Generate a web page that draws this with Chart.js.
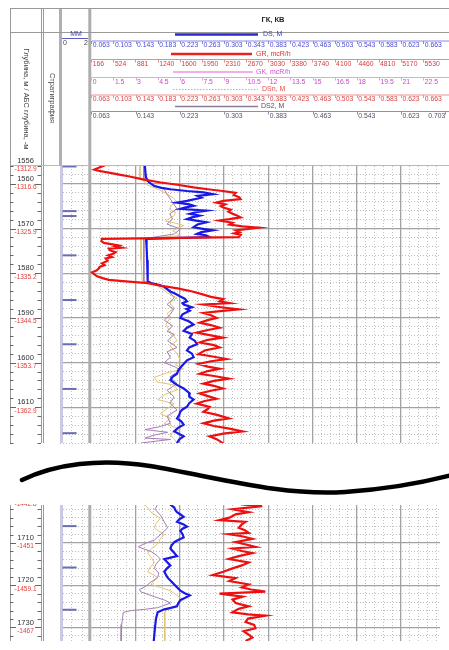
<!DOCTYPE html>
<html>
<head>
<meta charset="utf-8">
<script src="https://cdn.jsdelivr.net/npm/chart.js@4.4.1/dist/chart.umd.min.js"></script>
<style>
  html, body { margin: 0; padding: 0; background: #fff; overflow: hidden; }
  canvas { position: absolute; left: 0; }
  #top { top: 0; }
  #bot { top: 452px; }
</style>
</head>
<body>
<canvas id="top" width="449" height="452"></canvas>
<canvas id="bot" width="449" height="198"></canvas>
<script>
const DEPTH_GR = [1556.0,1556.1,1556.8,1557.0,1557.5,1558.0,1558.3,1559.0,1559.7,1560.2,1560.8,1561.2,1561.6,1562.0,1562.5,1563.0,1563.4,1563.8,1564.2,1564.6,1565.0,1565.3,1565.8,1566.2,1566.7,1567.1,1567.5,1567.9,1568.2,1568.7,1569.1,1569.5,1569.8,1570.1,1570.4,1570.8,1571.1,1571.4,1571.9,
  1572.3,1572.8,1573.2,1573.8,1574.0,1574.3,1574.5,1574.9,1575.3,1575.6,1576.0,1576.4,1576.7,1577.2,1577.8,1578.2,1578.6,1578.9,1579.4,1579.8,1580.2,1580.7,1581.1,1581.5,1581.9,1582.2,1582.8,1583.4,1584.1,1584.8,1585.3,1585.8,
  1586.3,1586.7,1587.0,1587.5,1588.1,1588.5,1588.9,1589.4,1590.0,1590.5,1591.1,1591.6,1592.2,1592.7,1593.3,1593.9,1594.4,1594.9,1595.5,1596.1,1596.6,1597.3,1598.1,1598.7,1599.2,1599.7,1600.3,1600.9,1601.4,1601.9,1602.5,1603.0,
  1603.6,1604.1,1604.7,1605.2,1605.8,1606.3,1606.9,1607.5,1608.1,1608.6,1609.2,1609.9,1610.4,1611.0,1611.7,1612.5,1613.0,1613.6,1614.2,1614.8,1615.4,1615.9,1616.5,1617.2,1618.0,
  1700.9,1701.3,1701.6,1702.0,1702.7,1703.2,1704.0,1704.6,1705.0,1705.6,1706.4,1707.0,1707.6,1707.9,1708.4,1709.0,1709.8,1710.3,1710.9,1711.3,1711.9,1712.4,1713.1,1713.8,1714.6,1715.3,1716.0,1716.8,1717.6,1718.3,1719.0,1719.8,
  1720.5,1721.0,1721.5,1722.0,1722.7,1723.4,1724.2,1725.0,1725.6,1726.4,1726.9,1727.2,1727.9,1728.7,1729.4,1730.2,1730.9,1731.6,1732.4,1733.2];
const GR = [290,340,215,260,450,640,766,1000,1290,1560,1820,2050,2290,2500,2470,2560,2580,2300,2190,2330,2260,2300,2420,2380,2450,2520,2580,2400,2240,2450,2400,2610,2870,2700,2500,2560,2480,2580,2550,
  340,330,370,610,560,655,450,470,560,530,440,500,400,430,340,380,300,290,250,180,210,260,350,450,770,1080,1300,1560,1800,1980,2100,2300,
  2240,2400,1980,2200,2550,2250,1980,2100,2190,2050,1920,2100,2240,2050,1870,2100,2290,2050,1920,2150,2240,2000,1900,2150,2350,2100,1900,2050,2240,2050,1920,2150,
  2390,2150,1980,2150,2290,2100,1920,2050,2190,2000,1870,2080,2050,1980,2200,2390,2150,1980,2150,2400,2610,2300,2080,2200,2290,
  2610,2930,2700,2450,2710,2500,2400,2240,2660,2600,2550,2650,2710,2390,2600,2770,2500,2650,2820,2450,2600,2770,2550,2390,2710,2600,2450,2300,2130,2500,2400,2710,
  2600,2750,2980,2240,2610,2450,2500,2710,2550,2450,2700,2980,2700,2660,2800,2820,2630,2700,2770,2660];

const DEPTH_DS = [1556.0,1557.5,1558.6,1559.3,1559.7,1560.5,1560.9,1561.2,1561.6,1561.9,1562.3,1562.7,1563.1,1563.8,1564.2,1564.6,1564.9,1565.3,1565.6,1566.0,1566.4,1566.7,1567.1,1567.5,1567.9,1568.3,1568.6,1569.1,1569.7,1570.0,1570.4,1570.8,1571.2,1571.5,1571.9,
  1572.3,1574.0,1577.1,1580.0,1581.8,1582.2,1582.6,1583.0,1583.5,1584.1,1584.6,1585.2,1585.7,1586.3,1586.7,1587.0,1587.6,1588.0,1588.4,1589.2,1590.0,1590.8,1591.5,1592.2,1592.9,1593.6,1594.4,1595.1,1595.9,1596.6,1597.3,
  1598.0,1598.8,1599.5,1600.3,1601.0,1601.8,1602.5,1603.2,1603.9,1604.5,1605.0,1605.8,1606.4,1606.9,1607.6,1608.3,1609.1,1609.9,1610.5,1611.0,1611.7,1612.5,1613.2,1613.9,1614.6,1615.4,1616.0,1616.5,1617.2,1618.0,
  1700.9,1701.6,1702.2,1702.7,1703.3,1703.8,1704.4,1705.0,1705.6,1706.1,1706.6,1707.1,1707.9,1708.7,1709.3,1709.8,1710.6,1711.3,1712.2,1713.1,1713.8,1714.5,1715.3,1716.0,1716.8,1717.5,1718.2,1719.0,1719.8,1720.5,
  1721.3,1721.9,1722.4,1723.0,1723.5,1724.3,1725.0,1725.4,1725.7,1726.1,1726.4,1727.9,1730.2,1733.2];
const DS = [0.160,0.161,0.162,0.165,0.168,0.177,0.190,0.206,0.236,0.266,0.283,0.255,0.262,0.236,0.218,0.240,0.248,0.232,0.224,0.271,0.250,0.241,0.259,0.245,0.236,0.255,0.271,0.255,0.248,0.262,0.283,0.262,0.254,0.270,0.277,
  0.162,0.163,0.164,0.165,0.165,0.171,0.185,0.195,0.200,0.206,0.215,0.224,0.232,0.236,0.228,0.230,0.245,0.235,0.241,0.228,0.224,0.240,0.248,0.236,0.230,0.245,0.241,0.250,0.254,0.240,0.236,
  0.245,0.248,0.236,0.230,0.225,0.220,0.218,0.210,0.206,0.212,0.218,0.230,0.236,0.241,0.240,0.248,0.240,0.236,0.228,0.224,0.222,0.218,0.226,0.230,0.220,0.213,0.222,0.230,0.222,0.218,
  0.206,0.213,0.215,0.218,0.225,0.230,0.222,0.218,0.230,0.236,0.228,0.224,0.228,0.230,0.220,0.213,0.208,0.206,0.212,0.218,0.195,0.200,0.206,0.200,0.195,0.198,0.201,0.207,0.213,0.218,
  0.224,0.232,0.241,0.232,0.224,0.220,0.218,0.205,0.195,0.188,0.183,0.180,0.178,0.176];

const DEPTH_DSN = [1556.0,1558.6,1560.3,1561.3,1562.3,1563.2,1564.1,1564.8,1565.6,1566.4,1567.1,1567.7,1568.3,1568.8,1569.3,1569.9,1570.5,1571.0,1571.6,1572.3,1577.1,1581.8,1582.3,1582.9,1583.6,1584.4,1585.0,1585.5,
  1586.6,1587.8,1589.0,1590.0,1591.4,1592.9,1594.0,1595.1,1596.2,1597.3,1598.4,1599.5,1600.5,1601.4,1602.3,1603.3,1604.4,1605.0,1606.1,1607.2,1608.3,1609.2,1610.3,1611.4,1612.5,1613.6,1614.3,1615.0,1616.0,1617.0,1618.0,
  1700.9,1702.7,1704.2,1705.3,1706.4,1707.2,1707.9,1709.0,1710.2,1711.3,1712.4,1713.5,1714.6,1715.7,1716.8,1717.5,1718.2,1719.0,1719.8,1720.6,1721.3,1722.4,1723.5,1724.3,1725.0,1725.7,1726.4,1728.7,1733.2];
const DSN = [0.151,0.151,0.165,0.185,0.201,0.212,0.218,0.208,0.204,0.215,0.213,0.205,0.197,0.215,0.230,0.220,0.210,0.218,0.222,0.153,0.153,0.155,0.168,0.183,0.192,0.201,0.210,0.218,
  0.205,0.213,0.200,0.206,0.198,0.204,0.212,0.218,0.205,0.213,0.220,0.224,0.215,0.230,0.200,0.177,0.183,0.213,0.218,0.195,0.183,0.213,0.200,0.188,0.206,0.195,0.210,0.224,0.205,0.212,0.218,
  0.160,0.171,0.188,0.180,0.177,0.185,0.195,0.188,0.183,0.172,0.165,0.172,0.177,0.170,0.165,0.175,0.183,0.176,0.171,0.190,0.206,0.218,0.230,0.220,0.213,0.202,0.195,0.196,0.196];

const DEPTH_DS2 = [1556.0,1559.0,1560.2,1561.2,1562.3,1563.4,1564.5,1565.6,1566.7,1567.9,1569.0,1570.1,1571.2,1572.3,1581.8,1582.5,1583.1,1584.3,1585.5,1587.0,1588.0,1589.2,1590.5,1591.8,1593.0,1593.7,1595.1,1596.6,
  1597.6,1598.8,1600.0,1601.0,1601.7,1603.2,1604.7,1606.2,1607.7,1609.1,1610.6,1612.0,1613.6,1614.4,1615.0,1615.6,1616.3,1616.9,1617.2,1618.0,
  1700.9,1702.0,1703.4,1705.0,1706.4,1707.8,1709.3,1710.1,1710.9,1711.5,1712.0,1713.0,1713.8,1715.0,1716.0,1717.1,1718.2,1719.3,1720.4,1721.0,1721.6,1722.7,1723.5,1724.2,1725.0,1725.3,1725.7,1726.0,1726.4,1729.3,1733.2];
const DS2 = [0.158,0.158,0.175,0.195,0.200,0.206,0.212,0.218,0.205,0.210,0.200,0.224,0.213,0.158,0.158,0.175,0.192,0.205,0.213,0.200,0.212,0.206,0.195,0.210,0.200,0.213,0.201,0.218,
  0.200,0.206,0.195,0.215,0.224,0.205,0.218,0.200,0.213,0.205,0.218,0.200,0.206,0.185,0.160,0.201,0.175,0.160,0.206,0.153,
  0.183,0.178,0.188,0.195,0.201,0.190,0.177,0.160,0.148,0.160,0.171,0.182,0.188,0.180,0.177,0.185,0.183,0.170,0.160,0.150,0.153,0.177,0.195,0.206,0.190,0.183,0.160,0.135,0.121,0.118,0.117];

// marks in the MM column
const MM_DEPTH = [1556.1,1566.1,1567.2,1576.0,1586.0,1595.9,1605.9,1615.8,1706.0,1715.8,1725.8];
const MM_VAL = [0.6,0.6,0.6,0.6,0.6,0.6,0.6,0.6,0.6,0.6,0.6];

// depth column labels
const DEPTH_LABELS = [1556,1560,1570,1580,1590,1600,1610,1700,1710,1720,1730];
const ABS_LABELS = ['-1312.9','-1316.6','-1325.9','-1335.2','-1344.5','-1353.7','-1362.9','-1442.8','-1451','-1459.1','-1467'];

// header scale labels
const DS_TICKS = ['0.063','0.103','0.143','0.183','0.223','0.263','0.303','0.343','0.383','0.423','0.463','0.503','0.543','0.583','0.623','0.663'];
const GR_TICKS = ['166','524','881','1240','1600','1950','2310','2670','3030','3380','3740','4100','4460','4810','5170','5530'];
const GK_TICKS = ['0','1.5','3','4.5','6','7.5','9','10.5','12','13.5','15','16.5','18','19.5','21','22.5'];
const DSN_TICKS = DS_TICKS.slice();
const DS2_TICKS = ['0.063','0.143','0.223','0.303','0.383','0.463','0.543','0.623','0.703'];

// ---- layout ----
const W = 449;
const TRACK_L = 92;     // left edge of log track
const MAJOR = 45.31;    // px per major division (8 across the track)
const AREA_L = 60;      // chart area begins at the MM column
const U_MIN = (AREA_L - TRACK_L) / MAJOR;
const U_MAX = (W - TRACK_L) / MAJOR;
const FONT = '"Liberation Sans", Arial, sans-serif';

function trackScale(lo, hi) {
  const per = (hi - lo) / 8;
  return { type: 'linear', display: false, min: lo + per * U_MIN, max: lo + per * U_MAX };
}

function gridScale(axis, min, max, ticks, color, width, dash, reverse) {
  return {
    type: 'linear', axis: axis, position: axis === 'x' ? 'bottom' : 'left',
    min: min, max: max, reverse: !!reverse,
    afterBuildTicks: s => { s.ticks = ticks.map(v => ({ value: v })); },
    afterFit: s => { if (axis === 'x') s.height = 0; else s.width = 0; },
    ticks: { display: false },
    grid: { color: color, lineWidth: width, drawTicks: false },
    border: { display: false, dash: dash }
  };
}

function range(a, b, step, skipEvery) {
  const out = [];
  for (let v = a; v <= b + 1e-9; v += step) {
    const r = Math.round(v * 100) / 100;
    if (skipEvery && Math.abs(r / skipEvery - Math.round(r / skipEvery)) < 1e-6) continue;
    out.push(r);
  }
  return out;
}

function pts(depths, vals) { return depths.map((d, i) => ({ x: vals[i], y: d })); }

// separators, depth column ticks and labels
const framePlugin = {
  id: 'frame',
  beforeDatasetsDraw(chart) {
    const ctx = chart.ctx, a = chart.chartArea, y = chart.scales.y;
    const top = chart.options.isTop ? 8 : a.top, bot = a.bottom;
    ctx.save();
    ctx.strokeStyle = '#9a9a9a'; ctx.lineWidth = 1;
    [10.5, 41.5, 43.5].forEach(x => { ctx.beginPath(); ctx.moveTo(x, top); ctx.lineTo(x, bot); ctx.stroke(); });
    ctx.lineWidth = 3;
    ctx.strokeStyle = '#c9c9e6';
    ctx.beginPath(); ctx.moveTo(61.5, chart.options.isTop ? a.top : top); ctx.lineTo(61.5, bot); ctx.stroke();
    if (chart.options.isTop) { ctx.strokeStyle = '#b0b0b0'; ctx.beginPath(); ctx.moveTo(60.5, 8); ctx.lineTo(60.5, a.top); ctx.stroke(); }
    ctx.strokeStyle = '#adadad';
    ctx.beginPath(); ctx.moveTo(89.8, top); ctx.lineTo(89.8, bot); ctx.stroke();

    // depth ticks
    ctx.strokeStyle = '#666'; ctx.lineWidth = 1;
    const d0 = Math.ceil(y.min / 2) * 2;
    for (let d = d0; d <= y.max; d += 2) {
      const py = Math.round(y.getPixelForValue(d)) + 0.5;
      const big = d % 10 === 0;
      ctx.beginPath();
      ctx.moveTo(10, py); ctx.lineTo(big ? 16 : 13.5, py);
      ctx.moveTo(41, py); ctx.lineTo(big ? 35 : 37.5, py);
      ctx.stroke();
    }
    ctx.restore();
  },
  afterDraw(chart) {
    const ctx = chart.ctx, a = chart.chartArea, y = chart.scales.y;
    ctx.save();
    ctx.beginPath();
    ctx.rect(0, chart.options.isTop ? 150 : a.top - 1, 60, a.bottom);
    ctx.clip();
    ctx.textAlign = 'center'; ctx.textBaseline = 'middle';
    DEPTH_LABELS.forEach((d, i) => {
      if (d < y.min - 1.5 || d > y.max) return;
      const py = y.getPixelForValue(d);
      ctx.font = '7.5px ' + FONT; ctx.fillStyle = '#333';
      ctx.fillText(String(d), 25.5, py - 5);
      ctx.font = '6.5px ' + FONT; ctx.fillStyle = '#e0403c';
      ctx.fillText(ABS_LABELS[i], 25.5, py + 3.5);
    });
    ctx.restore();
  }
};

// header with curve names and scales
const HEADER = [
  { name: 'DS, M', color: '#2a2ad0', text: '#3c3cc8', lw: 2.5, dash: [], x0: 175, x1: 258, tx: 263, ly: 34.5, by: 41, scale: 'xDS', ticks: DS_TICKS, base: '#8a8ae6', lab: '#4a4ad0' },
  { name: 'GR, mcR/h', color: '#e82020', text: '#e03030', lw: 2.5, dash: [], x0: 171, x1: 252, tx: 256, ly: 54, by: 59.5, scale: 'xGR', ticks: GR_TICKS, base: '#ec8a8a', lab: '#d83a3a' },
  { name: 'GK, mcR/h', color: '#e060e0', text: '#d050d0', lw: 1, dash: [], x0: 173, x1: 253, tx: 256, ly: 72, by: 77.5, scale: 'xGK', ticks: GK_TICKS, base: '#e8a0e8', lab: '#c848c8' },
  { name: 'DSn, M', color: '#f0a070', text: '#e05050', lw: 1, dash: [1.5, 1.5], x0: 173, x1: 258, tx: 262, ly: 89.5, by: 95, scale: 'xDS', ticks: DSN_TICKS, base: '#ec9090', lab: '#d84444' },
  { name: 'DS2, M', color: '#8c7c98', text: '#5a4a68', lw: 1.5, dash: [], x0: 175, x1: 258, tx: 261, ly: 106.5, by: 111.5, scale: 'xDS', ticks: DS2_TICKS, base: '#9a8aa8', lab: '#5a4a68' }
];

const headerPlugin = {
  id: 'header',
  afterDraw(chart) {
    if (!chart.options.isTop) return;
    const ctx = chart.ctx, a = chart.chartArea;
    ctx.save();
    ctx.strokeStyle = '#9a9a9a'; ctx.lineWidth = 1;
    [8.5, 32.5].forEach(py => { ctx.beginPath(); ctx.moveTo(10, py); ctx.lineTo(W, py); ctx.stroke(); });
    ctx.strokeStyle = '#b8b8b8';
    ctx.beginPath(); ctx.moveTo(10, a.top - 0.5); ctx.lineTo(W, a.top - 0.5); ctx.stroke();

    ctx.fillStyle = '#222'; ctx.font = 'bold 7.5px ' + FONT; ctx.textAlign = 'center'; ctx.textBaseline = 'middle';
    ctx.fillText('ГК, КВ', 273, 19.5);

    // rotated column titles
    ctx.font = '7.5px ' + FONT; ctx.fillStyle = '#444';
    [['Глубина, м / АБС глубина, -м', 26, 99], ['Стратиграфия', 52, 98]].forEach(([t, x, yy]) => {
      ctx.save(); ctx.translate(x, yy); ctx.rotate(Math.PI / 2); ctx.fillText(t, 0, 0); ctx.restore();
    });

    // MM column header
    ctx.fillStyle = '#3a3ab0'; ctx.font = '7px ' + FONT;
    ctx.fillText('MM', 76, 34);
    ctx.strokeStyle = '#5a5ac0'; ctx.beginPath(); ctx.moveTo(62, 38.5); ctx.lineTo(88, 38.5); ctx.stroke();
    ctx.fillStyle = '#444'; ctx.textAlign = 'left'; ctx.fillText('0', 63, 43.5);
    ctx.textAlign = 'right'; ctx.fillText('2', 88, 43.5);

    HEADER.forEach(h => {
      ctx.strokeStyle = h.color; ctx.lineWidth = h.lw; ctx.setLineDash(h.dash);
      ctx.beginPath(); ctx.moveTo(h.x0, h.ly); ctx.lineTo(h.x1, h.ly); ctx.stroke();
      ctx.setLineDash([]);
      ctx.fillStyle = h.text; ctx.font = '7px ' + FONT; ctx.textAlign = 'left';
      ctx.fillText(h.name, h.tx, h.ly);
      ctx.strokeStyle = h.base; ctx.lineWidth = 1;
      ctx.beginPath(); ctx.moveTo(TRACK_L, h.by); ctx.lineTo(W, h.by); ctx.stroke();
      const sc = chart.scales[h.scale];
      ctx.fillStyle = h.lab; ctx.font = '6.8px ' + FONT;
      h.ticks.forEach((t, i) => {
        let px = sc.getPixelForValue(parseFloat(t));
        const last = h.scale !== 'xGR' && h.scale !== 'xGK' && i === h.ticks.length - 1 && h.ticks.length < 10;
        ctx.beginPath(); ctx.moveTo(Math.round(px) + 0.5, h.by); ctx.lineTo(Math.round(px) + 0.5, h.by + 3); ctx.stroke();
        if (last) { ctx.textAlign = 'right'; ctx.fillText(t, px, h.by + 4.5); ctx.textAlign = 'left'; }
        else ctx.fillText(t, px + 1.5, h.by + 4.5);
      });
    });
    ctx.restore();
  }
};

// break symbol between the two intervals
const breakPlugin = {
  id: 'breakLine',
  afterDraw(chart) {
    if (chart.options.isTop) return;
    const ctx = chart.ctx;
    ctx.save();
    ctx.strokeStyle = '#000'; ctx.lineWidth = 4.5; ctx.lineCap = 'round';
    ctx.beginPath();
    ctx.moveTo(22, 28);
    ctx.bezierCurveTo(55, 12, 100, 6, 150, 14);
    ctx.bezierCurveTo(220, 26, 280, 44, 345, 40);
    ctx.bezierCurveTo(390, 37, 425, 30, 452, 23);
    ctx.stroke();
    ctx.restore();
  }
};

function makePanel(id, yMin, yMax, pad, isTop, majorsY, minorsY) {
  const line = (label, d, v, axis, color, width) => ({
    label: label, data: pts(d, v), xAxisID: axis, yAxisID: 'y', showLine: true,
    borderColor: color, borderWidth: width, pointRadius: 0, tension: 0, fill: false
  });
  return new Chart(document.getElementById(id), {
    type: 'scatter',
    data: {
      datasets: [
        line('GR, mcR/h', DEPTH_GR, GR, 'xGR', '#ee1010', 2.2),
        line('DS, M', DEPTH_DS, DS, 'xDS', '#1818e8', 2.2),
        line('DS2, M', DEPTH_DS2, DS2, 'xDS', '#a47cb4', 1),
        line('DSn, M', DEPTH_DSN, DSN, 'xDS', '#e2c476', 1),
        { label: 'MM', data: pts(MM_DEPTH, MM_VAL), xAxisID: 'xMM', yAxisID: 'y', showLine: false,
          pointStyle: 'line', pointRadius: 7, borderColor: '#6c6cb0', borderWidth: 2, pointHoverRadius: 7 }
      ]
    },
    options: {
      isTop: isTop,
      responsive: false, animation: false, events: [],
      layout: { padding: pad },
      plugins: { legend: { display: false }, tooltip: { enabled: false } },
      scales: {
        y: gridScale('y', yMin, yMax, majorsY, '#a2a2a2', 1.3, [], true),
        yMinor: gridScale('y', yMin, yMax, minorsY, '#bdbdbd', 1, [1, 2], true),
        xGrid: gridScale('x', U_MIN, U_MAX, range(1, 7, 1), '#a2a2a2', 1.3, []),
        xGridMinor: gridScale('x', U_MIN, U_MAX, [-0.44, -0.19].concat(range(0.2, 7.8, 0.2, 1)), '#c2c2c2', 1, [1, 2]),
        xDS: trackScale(0.063, 0.703),
        xGR: trackScale(166, 5890),
        xGK: trackScale(0, 24),
        xMM: { type: 'linear', display: false, min: (AREA_L - 62) * 2 / 26, max: (W - 62) * 2 / 26 }
      }
    },
    plugins: [framePlugin, headerPlugin, breakPlugin]
  });
}

makePanel('top', 1556, 1618, { top: 166, left: AREA_L, right: 0, bottom: 5 }, true,
  range(1560, 1610, 10), range(1558, 1618, 2, 10));
makePanel('bot', 1701, 1733.2, { top: 53, left: AREA_L, right: 0, bottom: 0 }, false,
  range(1710, 1730, 10), range(1702, 1732, 2, 10));
</script>
</body>
</html>
